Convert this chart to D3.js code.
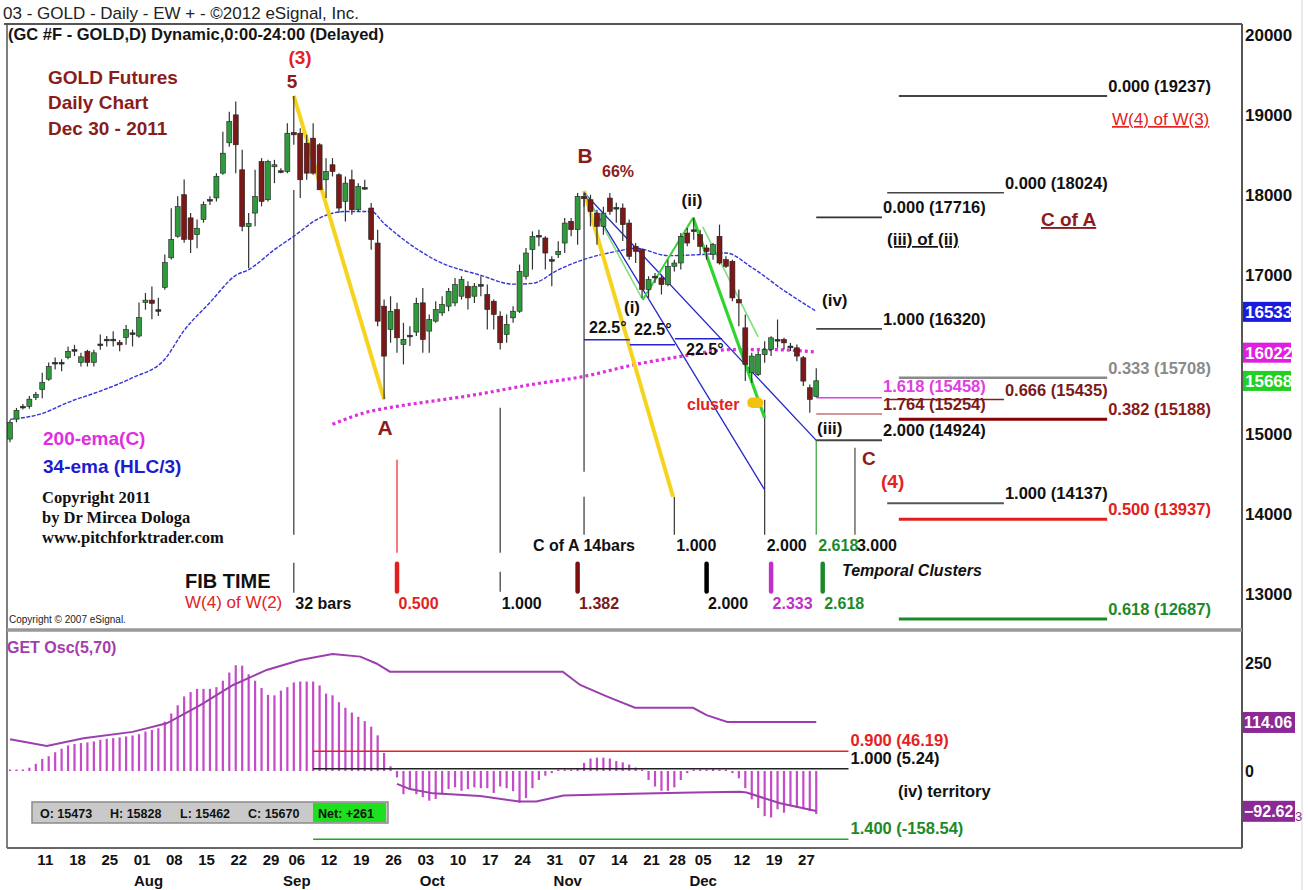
<!DOCTYPE html>
<meta charset="utf-8">
<style>
body { margin: 0; background: #fff; }
svg { font-family: "Liberation Sans", Arial, sans-serif; }
</style>
<svg width="1308" height="890"></svg>
<script src="https://d3js.org/d3.v7.min.js"></script>
<script>
// ---- daily bars, Jul 5 - Dec 30 2011 (GC, x10) ----
var opens = [14940,15190,15330,15350,15460,15560,15690,15880,15900,15960,
 16060,15900,16040,15900,16110,16180,16190,16150,16210,16270,
 16230,16650,16680,16560,16840,17210,17480,18000,17710,17500,
 17690,17920,17960,18270,18650,19000,18312,17600,17770,18416,
 17937,18350,18300,18291,18780,18770,18645,18708,18625,18187,
 18375,18250,17916,18187,17812,18080,17833,17395,16604,16312,
 16562,16125,16229,16280,16646,16292,16417,16520,16604,16645,
 16729,16854,16729,16854,16750,16666,16479,16250,16458,16541,
 16979,17312,17479,17458,17187,17250,17395,17666,17562,17980,
 17937,17770,17604,17958,17840,17833,17645,17354,17312,16812,
 16958,16958,16875,17104,17145,17520,17560,17500,17333,17250,
 17479,17187,17166,16687,16333,15770,15750,16000,16062,16187,
 16187,16104,16083,15958,15583,15473];
var highs = [15180,15330,15380,15480,15530,15770,15900,15960,15940,16100,
 16120,16020,16060,16060,16250,16230,16290,16180,16370,16310,
 16650,16770,16850,16710,17250,17830,17980,18190,17770,17690,
 17915,17980,18270,18790,19040,19166,18562,17770,18312,18458,
 18437,18437,18330,18895,19237,18833,18750,18895,18645,18458,
 18458,18270,18229,18312,18145,18187,17895,17562,16687,16729,
 16646,16396,16354,16710,16833,16500,16666,16730,16833,16958,
 16979,16916,16895,16979,16875,16687,16541,16500,16604,17125,
 17333,17541,17562,17479,17229,17416,17708,17708,18020,18024,
 18000,17812,17850,18020,17900,17890,17690,17396,17330,16979,
 17020,17000,17187,17187,17520,17583,17716,17562,17375,17395,
 17625,17229,17187,16812,16500,16020,16041,16166,16229,16437,
 16208,16145,16125,15979,15625,15828];
var lows = [14900,15150,15310,15320,15430,15450,15670,15810,15790,15940,
 15980,15850,15850,15850,16060,16100,16100,16040,16120,16100,
 16210,16560,16440,16480,16810,17190,17460,17400,17270,17330,
 17650,17870,17916,18250,18600,18270,17541,17080,17604,17854,
 17916,18145,18270,18270,18625,17958,18187,18250,18062,17958,
 18229,17770,17666,17750,17791,18062,17312,16354,15440,16146,
 16020,15875,16104,16230,16020,16020,16396,16480,16541,16604,
 16687,16562,16645,16729,16312,16312,16062,16146,16396,16520,
 16937,17062,17354,17062,16854,17208,17270,17479,17375,17850,
 17604,17375,17500,17750,17650,17420,17187,17146,16708,16708,
 16895,16750,16854,17040,17062,17354,17437,17250,17187,17187,
 17125,17083,16666,16354,15666,15645,15729,15895,15979,16083,
 16062,16041,15916,15604,15270,15462];
var closes = [15150,15300,15350,15440,15500,15650,15850,15900,15890,16040,
 16050,15970,15900,16020,16130,16190,16170,16120,16310,16250,
 16460,16680,16640,16540,17150,17440,17850,17440,17440,17580,
 17875,17940,18230,18520,18916,18625,17604,17640,17979,17916,
 18416,18375,18290,18770,18750,18187,18270,18270,18062,18291,
 18291,17833,18145,17812,18104,18090,17437,16416,15979,16541,
 16208,16187,16240,16640,16187,16437,16562,16625,16791,16875,
 16937,16708,16854,16875,16562,16500,16146,16375,16541,17041,
 17270,17479,17490,17270,17170,17291,17645,17562,17979,17950,
 17791,17604,17770,17791,17830,17625,17229,17290,16812,16937,
 16979,16875,17104,17145,17479,17395,17540,17354,17291,17375,
 17145,17104,16708,16645,15875,15979,16000,16062,16208,16187,
 16145,16104,15979,15666,15437,15670];

// moving averages: [bar, value]
var ema34 = [[0,15187],[5,15260],[9,15400],[14,15541],[19,15708],[24,15940],[27,16300],
 [31,16650],[35,16990],[37,17062],[41,17312],[44,17480],[48,17708],[52,17790],[56,17790],
 [58,17640],[61,17440],[66,17180],[73,16990],[78,16880],[81,16890],[85,17060],[89,17190],
 [94,17290],[97,17330],[102,17237],[107,17250],[111,17270],[115,17090],[120,16800],[125,16540]];
var ema200 = [[50,15125],[55,15270],[60,15350],[65,15410],[71,15480],[81,15625],[89,15725],
 [97,15875],[104,15975],[112,16060],[118,16060],[125,16030]];

// GET oscillator
var osc = [1.5,1.5,1.5,7.6,16.8,28.3,34.4,43.6,52,59.6,
 62.7,65,66.5,68.8,72.6,74.9,76.5,78,80.3,82.6,
 85.6,91.7,95.6,99.4,114.7,133.8,152.9,173.5,183.5,191,
 191,191,195,210,229,246,245,225,210,193,
 177,176,187,195,206,208,208,208,199,180,
 176,160,147,136,126,116,103,83,42,11,
 -15,-54,-42,-54,-61,-69,-65,-54,-42,-38,
 -46,-42,-38,-40,-40,-51,-36,-40,-47,-74,
 -63,-40,-21,-11,-5,-2,0.5,2,6,19,
 29,31,31,29,23,20,15,8,-2,-21,
 -36,-46,-46,-38,-21,-5,0.5,1.5,2,4.5,
 1.5,-1.5,-5,-17,-40,-66,-86,-105,-108,-89,
 -97,-82,-86,-89,-93,-100];
var oscUpper = [[0,74],[5.7,58],[11.4,76],[19,91],[24.3,111],[29.5,153],[34.6,200],[39.8,235],
 [45,258],[50,272],[54.3,266],[56.8,250],[58.9,231],[85.7,231],[88.4,200],[92.6,173],
 [96.9,147],[105.9,147],[108,130],[111.2,114],[125,114]];
var oscLower = [[60,-30],[62,-42],[65.6,-52],[72.9,-58],[79,-71],[81.6,-71],[85.8,-57],
 [96.6,-53],[105.9,-50],[113.2,-48],[114.2,-50],[119.4,-75],[125,-93]];

// axis labels
var dayLabels = ["11","18","25","01","08","15","22","29","06","12","19","26","03","10","17",
 "24","31","07","14","21","28","05","12","19","27"];
var dayIdx = [4,9,14,19,24,29,34,39,43,48,53,58,63,68,73,78,83,88,93,98,102,106,112,117,122];
var monthLabels = ["Aug","Sep","Oct","Nov","Dec"];
var monthIdx = [20,43,64,85,106];
var priceTicks = [13000,14000,15000,16000,17000,18000,19000,20000];
var oscTicks = [0,250];

// price level tags
var tagValues = [16533,16022,15668];
var oscTagValues = [114.06,-92.62];

// fibonacci price levels
var fibValues = [19237,18024,17716,16320,15708,15458,15435,15254,15188,14924,14137,13937,12687];
var fibLabels = ["0.000 (19237)","0.000 (18024)","0.000 (17716)","1.000 (16320)","0.333 (15708)",
 "1.618 (15458)","0.666 (15435)","1.764 (15254)","0.382 (15188)","2.000 (14924)",
 "1.000 (14137)","0.500 (13937)","0.618 (12687)"];
var oscFibValues = [46.19,5.24,-158.54];
var oscFibLabels = ["0.900 (46.19)","1.000 (5.24)","1.400 (-158.54)"];

// fib time
var fibTimeIdx = [44,60,76,88,108,118,126];
var fibTimeLabels = ["32 bars","0.500","1.000","1.382","2.000","2.333","2.618"];
var clusterIdx = [89,103,117,125,131];
var clusterLabels = ["C of A 14bars","1.000","2.000","2.618","3.000"];

// last bar quote
var quoteNames = ["O","H","L","C"];
var quoteValues = [15473,15828,15462,15670];
var netChange = 261;

// ---------------------------------------------------------------
var svg = d3.select("svg");
svg.append("rect").attr("width", 1308).attr("height", 890).attr("fill", "#fff");

var x = d3.scaleLinear().domain([0, 191]).range([10, 10 + 6.45 * 191]);
var yP = d3.scaleLinear().domain([13000, 20000]).range([594, 35]);
var yO = d3.scaleLinear().domain([0, 250]).range([771, 663.5]);

var RED = "#e32222", DRED = "#8b1c1c", GRN = "#1d8a2a", MAG = "#dd2ee0", BLU = "#2424cc";

function text(s, px, py, size, weight, color, opts) {
  opts = opts || {};
  var t = svg.append("text").attr("x", px).attr("y", py)
    .attr("font-size", size).attr("font-weight", weight || "normal")
    .attr("fill", color || "#111").text(s);
  if (opts.anchor) t.attr("text-anchor", opts.anchor);
  if (opts.italic) t.attr("font-style", "italic");
  if (opts.under) t.attr("text-decoration", "underline");
  if (opts.family) t.attr("font-family", opts.family);
  return t;
}
function seg(i0, p0, i1, p1, color, w, dash) {
  var l = svg.append("line")
    .attr("x1", x(i0)).attr("y1", yP(p0)).attr("x2", x(i1)).attr("y2", yP(p1))
    .attr("stroke", color).attr("stroke-width", w);
  if (dash) l.attr("stroke-dasharray", dash);
  return l;
}

// ---- frames ----
svg.append("line").attr("x1", 4).attr("x2", 1242).attr("y1", 24).attr("y2", 24).attr("stroke", "#555").attr("stroke-width", 2);
svg.append("line").attr("x1", 7).attr("x2", 7).attr("y1", 24).attr("y2", 848).attr("stroke", "#555").attr("stroke-width", 1.5);
svg.append("line").attr("x1", 1242).attr("x2", 1242).attr("y1", 24).attr("y2", 848).attr("stroke", "#555").attr("stroke-width", 2);
svg.append("line").attr("x1", 7).attr("x2", 1242).attr("y1", 630).attr("y2", 630).attr("stroke", "#999").attr("stroke-width", 3.5);
svg.append("line").attr("x1", 7).attr("x2", 1242).attr("y1", 848).attr("y2", 848).attr("stroke", "#666").attr("stroke-width", 2);
svg.append("line").attr("x1", 1302).attr("x2", 1302).attr("y1", 0).attr("y2", 890).attr("stroke", "#e4e4e4").attr("stroke-width", 1.5);

// ---- titles ----
text("03 - GOLD -  Daily - EW + - \u00a92012 eSignal, Inc.", 3, 19, 17, "normal", "#222");
text("(GC #F - GOLD,D) Dynamic,0:00-24:00 (Delayed)", 8, 40, 16.5, "bold", "#151515");
text("GOLD Futures", 48, 84, 19, "bold", DRED);
text("Daily Chart", 48, 109, 19, "bold", DRED);
text("Dec 30 - 2011", 48, 135, 19, "bold", DRED);

// ---- moving averages ----
var lineP = d3.line().x(function(d) { return x(d[0]); }).y(function(d) { return yP(d[1]); }).curve(d3.curveMonotoneX);
svg.append("path").attr("d", lineP(ema34)).attr("fill", "none").attr("stroke", "#3434d8")
  .attr("stroke-width", 1.4).attr("stroke-dasharray", "4,1.5");
svg.append("path").attr("d", lineP(ema200)).attr("fill", "none").attr("stroke", MAG)
  .attr("stroke-width", 3.2).attr("stroke-dasharray", "3,3");

// ---- time markers (vertical) ----
var timeLines = [
  [44, 18060, 13742, "#444"], [44, 13392, 13016, "#444"], [60, 14681, 13517, "#e33"],
  [76, 15332, 13517, "#444"], [76, 13279, 13029, "#444"], [89, 18023, 14531, "#444"],
  [89, 14218, 13742, "#444"], [103, 14218, 13742, "#444"], [117, 15432, 13742, "#444"],
  [125, 14931, 13742, "#45a845"], [131, 14831, 13742, "#555"]];
timeLines.forEach(function(d) { seg(d[0], d[1], d[0], d[2], d[3], 1.3); });
var timeMarks = [[60, "#e21f1f"], [88, "#7a1010"], [108, "#000"], [118, "#c030c8"], [126, "#1d8a2a"]];
timeMarks.forEach(function(d) {
  seg(d[0], 13380, d[0], 13030, d[1], 4.5).attr("stroke-linecap", "round");
});

// ---- wave lines ----
var YEL = "#f6d41e";
seg(44, 19237, 58, 15440, YEL, 4);
seg(89, 18050, 102.8, 14218, YEL, 4);
seg(89, 18024, 117, 14305, BLU, 1.3);
seg(89, 18024, 125, 14924, BLU, 1.3);
seg(89, 16183, 96.1, 16183, BLU, 1.5);
seg(96.1, 16120, 103.1, 16120, BLU, 1.5);
seg(103.1, 16195, 110.4, 16195, BLU, 1.5);
seg(89.3, 18000, 98.1, 16683, "#7be07b", 1.5);
seg(98.1, 16683, 105.9, 17710, "#3ad43a", 2);
seg(107.4, 17597, 116, 16220, "#7be07b", 1.6);
seg(105.9, 17710, 117, 15207, "#2fd42f", 3.2);

// ---- candles ----
var bars = opens.map(function(o, i) { return { i: i, o: o, h: highs[i], l: lows[i], c: closes[i] }; });
var cg = svg.append("g");
cg.selectAll(".wick").data(bars).enter().append("line")
  .attr("x1", function(d) { return x(d.i); }).attr("x2", function(d) { return x(d.i); })
  .attr("y1", function(d) { return yP(d.h); }).attr("y2", function(d) { return yP(d.l); })
  .attr("stroke", "#333").attr("stroke-width", 1.2);
cg.selectAll(".body").data(bars).enter().append("rect")
  .attr("x", function(d) { return x(d.i) - 2.5; }).attr("width", 5)
  .attr("y", function(d) { return yP(Math.max(d.o, d.c)); })
  .attr("height", function(d) { return Math.max(1.6, Math.abs(yP(d.o) - yP(d.c))); })
  .attr("fill", function(d) {
    if (Math.abs(d.c - d.o) < 25) return "#333";
    return d.c > d.o ? "#2f9a3c" : "#7b1818";
  })
  .attr("stroke", "#222").attr("stroke-width", 0.6);

// cluster blob
svg.append("rect").attr("x", x(114.3)).attr("y", yP(15460))
  .attr("width", x(116.8) - x(114.3)).attr("height", yP(15330) - yP(15460))
  .attr("rx", 5).attr("fill", "#f3c20f");

// ---- fibonacci levels ----
var grp = { L: [125, 135.2], M: [136, 154.1], R: [137.8, 170.1] };
var fibStyle = [
  ["R", "#444", 2, "#111"], ["M", "#444", 1.6, "#111"], ["L", "#333", 1.6, "#111"], ["L", "#444", 1.6, "#111"],
  ["R", "#8a8a8a", 2.6, "#8a8a8a"], ["L", "#e040e0", 1.4, "#e040e0"], ["M", "#8b1a1a", 1.4, "#7a1a1a"],
  ["L", "#a03030", 1.1, "#7a1a1a"], ["R", "#8b0000", 3, "#8b1a1a"], ["L", "#444", 2, "#111"],
  ["M", "#555", 2, "#111"], ["R", "#e02020", 3, "#e02020"], ["R", "#1d8a2a", 3, "#1d8a2a"]];
fibValues.forEach(function(v, k) {
  var s = fibStyle[k], e = grp[s[0]];
  seg(e[0], v, e[1], v, s[1], s[2]);
  text(fibLabels[k], x(e[1]) + 1, yP(v) - (k === 5 ? 5.5 : 4), 16.5, "bold", s[3]);
});

// ---- price-panel annotations ----
text("(3)", 300, 64, 19, "bold", RED, { anchor: "middle" });
text("5", 292, 88, 19, "bold", DRED, { anchor: "middle" });
text("A", 385, 435, 21, "bold", DRED, { anchor: "middle" });
text("B", 585, 163, 21, "bold", DRED, { anchor: "middle" });
text("66%", 602, 177, 16, "bold", DRED);
text("(ii)", 692, 206, 17, "bold", "#111", { anchor: "middle" });
text("(i)", 632, 313, 17, "bold", "#111", { anchor: "middle" });
text("22.5\u00b0", 589, 333, 16, "bold", "#111");
text("22.5\u00b0", 634, 335, 16, "bold", "#111");
text("22.5\u00b0", 686, 355, 16, "bold", "#111");
text("(iv)", 822, 306, 17, "bold", "#111");
text("(iii)", 817, 434, 17, "bold", "#111");
text("cluster", 687, 410, 16, "bold", RED);
text("C", 862, 465, 19, "bold", DRED);
text("(4)", 881, 488, 19, "bold", RED);
text("W(4) of W(3)", 1112, 125, 17, "normal", RED, { under: true });
text("C of A", 1041, 226, 19, "bold", DRED, { under: true });
text("(iii) of (ii)", 887, 245, 17, "bold", "#111", { under: true });
text("Temporal Clusters", 842, 576, 16, "bold", "#111", { italic: true });
text("200-ema(C)", 43, 445, 19, "bold", MAG);
text("34-ema (HLC/3)", 43, 473, 19, "bold", "#1c1cd0");
var serif = "'Liberation Serif', 'Times New Roman', serif";
text("Copyright 2011", 42, 503, 16.5, "bold", "#111", { family: serif });
text("by Dr Mircea Dologa", 42, 523, 16.5, "bold", "#111", { family: serif });
text("www.pitchforktrader.com", 42, 543, 16.5, "bold", "#111", { family: serif });
text("FIB TIME", 185, 588, 20, "bold", "#111");
text("W(4) of W(2)", 185, 608, 17, "normal", RED);
text("Copyright \u00a9 2007 eSignal.", 9, 623, 10, "normal", "#222");

var ftColors = ["#111", RED, "#111", "#7a1a1a", "#111", "#c030c8", GRN];
fibTimeIdx.forEach(function(b, k) {
  text(fibTimeLabels[k], x(b) + 1.5, 609, 16, "bold", ftColors[k]);
});
var clColors = ["#111", "#111", "#111", GRN, "#111"];
clusterIdx.forEach(function(b, k) {
  var t = text(clusterLabels[k], k === 0 ? x(b) : x(b) + 2, 551, 16, "bold", clColors[k]);
  if (k === 0) t.attr("text-anchor", "middle");
});

// ---- price axis ----
svg.append("g").attr("transform", "translate(1242,0)")
  .call(d3.axisRight(yP).tickValues(priceTicks).tickSize(0).tickPadding(3).tickFormat(d3.format("d")))
  .call(function(g) { g.select(".domain").remove(); })
  .attr("font-size", 17).attr("font-weight", "bold").attr("font-family", "Liberation Sans, Arial, sans-serif")
  .selectAll("text").attr("fill", "#111");
var tagColors = ["#1a1ae0", "#e020e0", "#22d022"];
tagValues.forEach(function(v, k) {
  svg.append("rect").attr("x", 1243).attr("y", yP(v) - 10).attr("width", 48).attr("height", 20).attr("fill", tagColors[k]);
  text(v, 1245, yP(v) + 6, 17, "bold", "#fff");
});

// ---- oscillator ----
text("GET Osc(5,70)", 7, 653, 16, "bold", "#a33db0");
svg.append("g").selectAll("line").data(osc).enter().append("line")
  .attr("x1", function(d, i) { return x(i); }).attr("x2", function(d, i) { return x(i); })
  .attr("y1", yO(0)).attr("y2", function(d) { return Math.abs(yO(d) - yO(0)) < 1.5 ? yO(0) - 1.5 : yO(d); })
  .attr("stroke", "#c44ac8").attr("stroke-width", 2.2);
var lineO = d3.line().x(function(d) { return x(d[0]); }).y(function(d) { return yO(d[1]); });
svg.append("path").attr("d", lineO(oscUpper)).attr("fill", "none").attr("stroke", "#9b3fae").attr("stroke-width", 2);
svg.append("path").attr("d", lineO(oscLower)).attr("fill", "none").attr("stroke", "#9b3fae").attr("stroke-width", 2);

var oscFibColors = ["#e32222", "#222", "#2aa02a"];
var oscFibText = [RED, "#111", GRN];
oscFibValues.forEach(function(v, k) {
  svg.append("line").attr("x1", x(47)).attr("x2", x(130)).attr("y1", yO(v)).attr("y2", yO(v))
    .attr("stroke", oscFibColors[k]).attr("stroke-width", 1.5);
  text(oscFibLabels[k], x(130) + 2, yO(v) - 5, 16.5, "bold", oscFibText[k]);
});
text("(iv) territory", 898, 797, 16.5, "bold", "#111");

svg.append("g").attr("transform", "translate(1242,0)")
  .call(d3.axisRight(yO).tickValues(oscTicks).tickSize(0).tickPadding(3))
  .call(function(g) { g.select(".domain").remove(); })
  .attr("font-size", 16).attr("font-weight", "bold").attr("font-family", "Liberation Sans, Arial, sans-serif")
  .selectAll("text").attr("fill", "#111");
oscTagValues.forEach(function(v, k) {
  svg.append("rect").attr("x", 1243).attr("y", yO(v) - 10).attr("width", 52).attr("height", 21).attr("fill", "#8b2a96");
  text(d3.format(".2f")(v), 1244, yO(v) + 6, 16, "bold", "#fff");
});
text("3", 1295, yO(oscTagValues[1]) + 10, 13, "normal", "#8b2a96");

// quote box
svg.append("rect").attr("x", 32).attr("y", 802).attr("width", 356).attr("height", 21)
  .attr("fill", "#c9c9c9").attr("stroke", "#8a8a8a").attr("stroke-width", 1.5);
svg.append("rect").attr("x", 313).attr("y", 803).attr("width", 73).attr("height", 19).attr("fill", "#1fe01f");
var qx = [40, 110, 180, 248];
quoteValues.forEach(function(v, k) {
  text(quoteNames[k] + ": " + v, qx[k], 817.5, 12.5, "bold", "#111");
});
text("Net: +" + netChange, 318, 817.5, 12.5, "bold", "#111");

// ---- time axis ----
svg.append("g").attr("transform", "translate(0,850)")
  .call(d3.axisBottom(x).tickValues(dayIdx).tickSize(0).tickPadding(4.5)
    .tickFormat(function(d, i) { return dayLabels[i]; }))
  .call(function(g) { g.select(".domain").remove(); })
  .attr("font-size", 15).attr("font-weight", "bold").attr("font-family", "Liberation Sans, Arial, sans-serif")
  .selectAll("text").attr("fill", "#111").attr("dx", 9);
svg.append("g").attr("transform", "translate(0,871)")
  .call(d3.axisBottom(x).tickValues(monthIdx).tickSize(0).tickPadding(4.5)
    .tickFormat(function(d, i) { return monthLabels[i]; }))
  .call(function(g) { g.select(".domain").remove(); })
  .attr("font-size", 15).attr("font-weight", "bold").attr("font-family", "Liberation Sans, Arial, sans-serif")
  .selectAll("text").attr("fill", "#111").attr("dx", 9);
</script>
